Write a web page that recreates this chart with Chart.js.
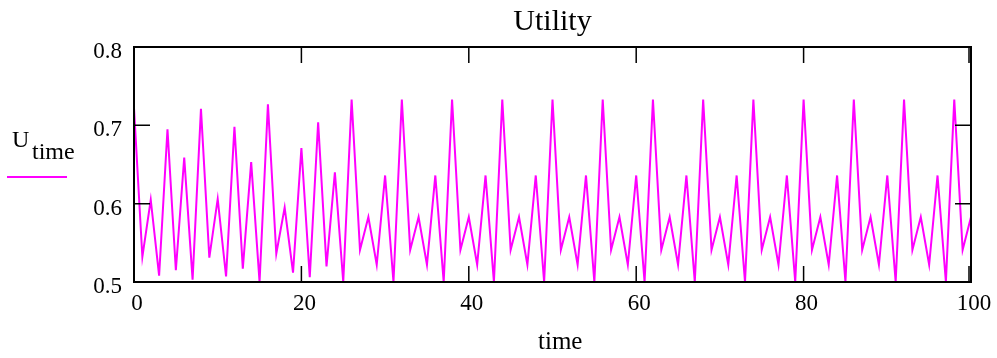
<!DOCTYPE html>
<html>
<head>
<meta charset="utf-8">
<title>Utility</title>
<script src="https://cdn.jsdelivr.net/npm/chart.js@4/dist/chart.umd.min.js"></script>
<style>
  html, body { margin: 0; padding: 0; background: #fff; }
  #wrap { width: 997px; height: 358px; }
</style>
</head>
<body>
<div id="wrap"><canvas id="utilChart" width="997" height="358"></canvas></div>
<script>
const timeSteps = [
  0, 1, 2, 3, 4, 5, 6, 7, 8, 9,
  10, 11, 12, 13, 14, 15, 16, 17, 18, 19,
  20, 21, 22, 23, 24, 25, 26, 27, 28, 29,
  30, 31, 32, 33, 34, 35, 36, 37, 38, 39,
  40, 41, 42, 43, 44, 45, 46, 47, 48, 49,
  50, 51, 52, 53, 54, 55, 56, 57, 58, 59,
  60, 61, 62, 63, 64, 65, 66, 67, 68, 69,
  70, 71, 72, 73, 74, 75, 76, 77, 78, 79,
  80, 81, 82, 83, 84, 85, 86, 87, 88, 89,
  90, 91, 92, 93, 94, 95, 96, 97, 98, 99,
  100
];

const utility = [
  0.722, 0.532, 0.605, 0.508, 0.695, 0.515, 0.659, 0.503, 0.721, 0.531,
  0.606, 0.507, 0.698, 0.517, 0.653, 0.500, 0.727, 0.536, 0.595, 0.512,
  0.671, 0.506, 0.704, 0.520, 0.640, 0.500, 0.733, 0.541, 0.583, 0.522,
  0.636, 0.500, 0.733, 0.541, 0.583, 0.522, 0.636, 0.500, 0.733, 0.541,
  0.583, 0.522, 0.636, 0.500, 0.733, 0.541, 0.583, 0.522, 0.636, 0.500,
  0.733, 0.541, 0.583, 0.522, 0.636, 0.500, 0.733, 0.541, 0.583, 0.522,
  0.636, 0.500, 0.733, 0.541, 0.583, 0.522, 0.636, 0.500, 0.733, 0.541,
  0.583, 0.522, 0.636, 0.500, 0.733, 0.541, 0.583, 0.522, 0.636, 0.500,
  0.733, 0.541, 0.583, 0.522, 0.636, 0.500, 0.733, 0.541, 0.583, 0.522,
  0.636, 0.500, 0.733, 0.541, 0.583, 0.522, 0.636, 0.500, 0.733, 0.541,
  0.583
];

const xTicks = [0, 20, 40, 60, 80, 100];
const yTicks = [0.5, 0.6, 0.7, 0.8];

const serif = '"Liberation Serif", "Times New Roman", serif';
const lineColor = "#ff00ff";

// frame with inward ticks on all four sides, plus the Mathcad-style y label
const framePlugin = {
  id: "frame",
  afterDatasetsDraw(chart) {
    const { ctx, chartArea: a, scales: { x, y } } = chart;
    ctx.save();
    ctx.strokeStyle = "#000";
    ctx.lineWidth = 2;
    ctx.strokeRect(a.left, a.top, a.right - a.left, a.bottom - a.top);

    ctx.lineWidth = 1.5;
    ctx.beginPath();
    xTicks.forEach((v) => {
      const px = Math.min(x.getPixelForValue(v), a.right - 2);
      ctx.moveTo(px, a.bottom);
      ctx.lineTo(px, a.bottom - 16);
      ctx.moveTo(px, a.top);
      ctx.lineTo(px, a.top + 16);
    });
    yTicks.forEach((v) => {
      const py = y.getPixelForValue(v);
      ctx.moveTo(a.left, py);
      ctx.lineTo(a.left + 16, py);
      ctx.moveTo(a.right, py);
      ctx.lineTo(a.right - 16, py);
    });
    ctx.stroke();

    ctx.fillStyle = "#000";
    ctx.textBaseline = "alphabetic";
    ctx.textAlign = "left";
    ctx.font = "24px " + serif;
    ctx.fillText("U", 12, 147);
    ctx.fillText("time", 32, 159);

    ctx.strokeStyle = lineColor;
    ctx.lineWidth = 2;
    ctx.beginPath();
    ctx.moveTo(7, 177);
    ctx.lineTo(67, 177);
    ctx.stroke();

    ctx.fillStyle = "#000";
    ctx.font = "25px " + serif;
    ctx.fillText("time", 538, 349);
    ctx.restore();
  }
};

new Chart(document.getElementById("utilChart"), {
  type: "line",
  data: {
    datasets: [{
      label: "U_time",
      data: timeSteps.map((t, i) => ({ x: t, y: utility[i] })),
      borderColor: lineColor,
      borderWidth: 2,
      pointRadius: 0,
      tension: 0,
      fill: false
    }]
  },
  options: {
    responsive: false,
    animation: false,
    layout: { padding: { left: 0, right: 26, top: 0, bottom: 0 } },
    plugins: {
      legend: { display: false },
      tooltip: { enabled: false },
      title: {
        display: true,
        text: "Utility",
        fullSize: false,
        color: "#000",
        font: { family: serif, size: 30, weight: "normal", lineHeight: 1.2 },
        padding: { top: 4, bottom: 7 }
      }
    },
    scales: {
      x: {
        type: "linear",
        min: 0,
        max: 100,
        grid: { display: false, drawTicks: false },
        border: { display: false },
        afterFit: (s) => { s.height = 76; },
        ticks: {
          stepSize: 20,
          padding: 8,
          labelOffset: 3,
          color: "#000",
          maxRotation: 0,
          font: { family: serif, size: 23 }
        }
      },
      y: {
        min: 0.5,
        max: 0.8,
        grid: { display: false, drawTicks: false },
        border: { display: false },
        afterFit: (s) => { s.width = 134; },
        afterBuildTicks: (s) => { s.ticks = yTicks.map((v) => ({ value: v })); },
        ticks: {
          padding: 12,
          labelOffset: 5,
          color: "#000",
          font: { family: serif, size: 23 },
          callback: (v) => Number(v).toFixed(1)
        }
      }
    }
  },
  plugins: [framePlugin]
});
</script>
</body>
</html>
